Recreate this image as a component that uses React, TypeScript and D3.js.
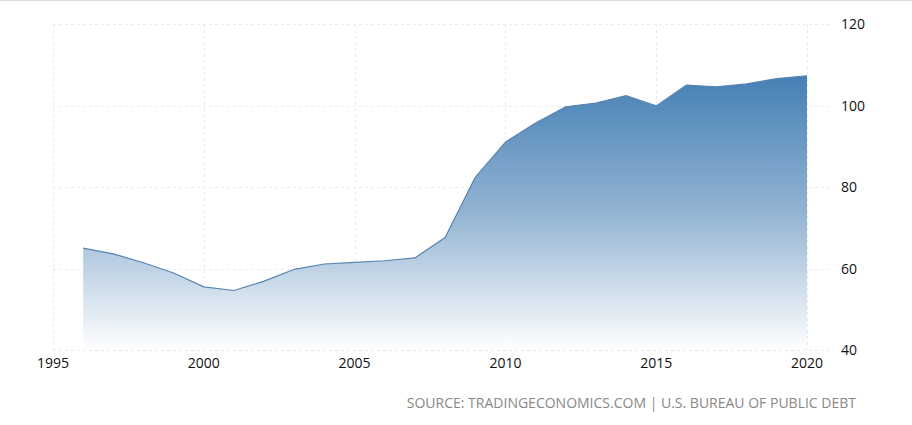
import * as React from 'react';
import * as d3 from 'd3';

// US government debt to GDP (%)
const years = [1996, 1997, 1998, 1999, 2000, 2001, 2002, 2003, 2004, 2005, 2006, 2007, 2008,
  2009, 2010, 2011, 2012, 2013, 2014, 2015, 2016, 2017, 2018, 2019, 2020];
const debt = [65.0, 63.6, 61.4, 58.9, 55.5, 54.6, 56.9, 59.8, 61.1, 61.5, 61.9, 62.6, 67.6,
  82.4, 91.0, 95.7, 99.7, 100.6, 102.4, 99.9, 105.0, 104.6, 105.3, 106.6, 107.3];
const xTicks = [1995, 2000, 2005, 2010, 2015, 2020];
const yTicks = [40, 60, 80, 100, 120];
const source = 'SOURCE: TRADINGECONOMICS.COM | U.S. BUREAU OF PUBLIC DEBT';

const W = 912;
const H = 425;
const font = '"Open Sans", sans-serif';

export default function App() {
  const x = d3.scaleLinear().domain([1995, 2020]).range([53, 807]);
  const y = d3.scaleLinear().domain([40, 120]).range([350, 24]);
  const data = years.map((yr, i) => ({ yr, v: debt[i] }));

  const area = d3.area<{ yr: number, v: number }>()
    .x(d => x(d.yr))
    .y0(y(40))
    .y1(d => y(d.v));
  const line = d3.line<{ yr: number, v: number }>()
    .x(d => x(d.yr))
    .y(d => y(d.v));
  const top = y(d3.max(debt)!);

  return (
    <svg width={W} height={H} style={{ position: 'absolute', left: 0, top: 0, background: '#fff' }}>
      <defs>
        <linearGradient id="fill" gradientUnits="userSpaceOnUse" x1={0} y1={top} x2={0} y2={y(40)}>
          <stop offset="0" stopColor="#4580b4" />
          <stop offset="0.5" stopColor="#93b4d3" />
          <stop offset="1" stopColor="#ffffff" />
        </linearGradient>
      </defs>
      <line x1={0} x2={W} y1={0.5} y2={0.5} stroke="#dcdcdc" />
      <g stroke="#ebebeb" strokeDasharray="3,3">
        {yTicks.map(t => (
          <line key={t} x1={x(1995)} x2={833} y1={Math.round(y(t)) + 0.5} y2={Math.round(y(t)) + 0.5} />
        ))}
        {xTicks.map(t => (
          <line key={t} x1={Math.round(x(t)) + 0.5} x2={Math.round(x(t)) + 0.5} y1={y(120)} y2={y(40)} />
        ))}
      </g>
      <path d={area(data)!} fill="url(#fill)" />
      <path d={line(data)!} fill="none" stroke="#5785b0" strokeWidth={1.2} />
      <g fontFamily={font} fontSize={14} fill="#111">
        {xTicks.map(t => (
          <text key={t} x={x(t)} y={368} textAnchor="middle">{t}</text>
        ))}
        {yTicks.map(t => (
          <text key={t} x={841} y={y(t) + 5}>{t}</text>
        ))}
      </g>
      <text x={856} y={408} textAnchor="end" fontFamily={font} fontSize={14} fill="#888">{source}</text>
    </svg>
  );
}
